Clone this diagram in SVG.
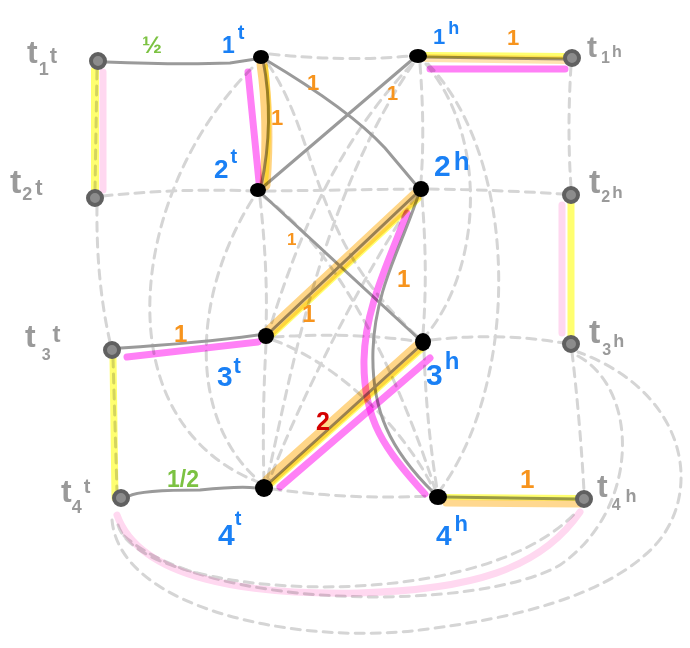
<svg xmlns="http://www.w3.org/2000/svg" width="690" height="648" viewBox="0 0 690 648">
<style>
.d{fill:none;stroke:#d5d5d5;stroke-width:3;stroke-dasharray:9 7;stroke-linecap:round}
.s{fill:none;stroke:#9a9a9a;stroke-width:3;stroke-linecap:round}
.hl{fill:none;stroke-linecap:round;mix-blend-mode:multiply}
.y{stroke:#ffff70}
.o{stroke:#ffc860}
.p{stroke:#ff80f6}
.lp{stroke:#ffd8f0}
.bn{fill:#000}
.gn{fill:#8c8c8c;stroke:#606060;stroke-width:4}
text{font-family:"Liberation Sans",Arial,sans-serif;font-weight:bold}
.nl{fill:#1a80f5}
.tl{fill:#9a9a9a}
.el{fill:#f7941d}
.gl{fill:#7cc242}
.rl{fill:#d40000}
</style>
<rect width="690" height="648" fill="#fff"/>
<g id="connectors">
  <g id="dashed">
    <path class="d" d="M97,70 L95,190"/>
    <path class="d" d="M103,196 Q180,188 252,191"/>
    <path class="d" d="M97,206 Q96,280 110,342"/>
    <path class="d" d="M113,358 L117,492"/>
    <path class="d" d="M270,54 Q345,62 410,56"/>
    <path class="d" d="M266,191 Q345,190 413,189"/>
    <path class="d" d="M429,189 Q500,190 563,194"/>
    <path class="d" d="M571,66 Q567,130 571,187"/>
    <path class="d" d="M274,337 Q350,332 415,341"/>
    <path class="d" d="M431,340 Q500,332 563,343"/>
    <path class="d" d="M572,352 Q580,420 584,491"/>
    <path class="d" d="M272,489 Q350,500 430,496"/>
    <path class="d" d="M420,64 Q425,130 421,181"/>
    <path class="d" d="M422,197 Q428,270 423,334"/>
    <path class="d" d="M424,350 Q426,420 437,489"/>
    <path class="d" d="M260,198 Q268,270 266,328"/>
    <path class="d" d="M266,344 Q262,420 264,480"/>
    <path class="d" d="M252,68 C130,190 100,420 258,482"/>
    <path class="d" d="M252,200 C190,300 190,420 258,480"/>
    <path class="d" d="M426,64 C490,140 480,270 427,334"/>
    <path class="d" d="M428,64 C520,160 520,380 441,489"/>
    <path class="d" d="M268,64 C320,140 310,240 417,336"/>
    <path class="d" d="M412,64 C340,140 300,230 270,328"/>
    <path class="d" d="M413,64 C320,200 290,380 267,480"/>
    <path class="d" d="M416,196 C360,280 300,400 269,481"/>
    <path class="d" d="M264,197 C340,250 400,380 435,489"/>
    <path class="d" d="M273,340 C330,360 400,420 434,490"/>
    <path class="d" d="M118,525 C140,600 480,620 578,510"/>
    <path class="d" d="M112,520 C120,610 300,645 420,630 C520,618 600,595 645,555 C705,505 695,395 578,352"/>
    <path class="d" d="M578,356 C640,390 640,510 560,565 C480,612 200,612 120,532"/>
  </g>
  <g id="solid">
    <path class="s" d="M106,62 Q180,65 230,63 L256,59"/>
    <path class="s" d="M121,348 Q200,343 258,335"/>
    <path class="s" d="M129,496 Q140,490 200,490 Q240,486 256,488"/>
    <path class="s" d="M266,60 Q350,110 385,148 L417,186"/>
    <path class="s" d="M263,187 L413,59"/>
    <path class="s" d="M262,194 L419,339"/>
    <path class="s" d="M263,60 Q275,120 261,187"/>
    <path class="s" d="M417,193 L270,332"/>
    <path class="s" d="M420,346 L268,484"/>
    <path class="s" d="M418,196 C400,250 375,290 373,350 C371,410 390,450 434,493"/>
    <path class="s" d="M425,57 L566,59"/>
    <path class="s" d="M444,497 L578,499"/>
  </g>
  <g id="highlights">
    <path class="hl y" stroke-width="8" d="M95,70 L95,190"/>
    <path class="hl lp" stroke-width="7" d="M103,72 L103,190"/>
    <path class="hl y" stroke-width="7" d="M113,358 L115,498"/>
    <path class="hl y" stroke-width="7" d="M571,203 L571,335"/>
    <path class="hl lp" stroke-width="7" d="M562,205 L562,333"/>
    <path class="hl o" stroke-width="8" opacity="0.5" d="M426,58 L565,60"/>
    <path class="hl y" stroke-width="6" d="M426,55 L565,56"/>
    <path class="hl p" stroke-width="7" d="M430,69 L565,69"/>
    <path class="hl o" stroke-width="7" opacity="0.7" d="M446,503 L580,504"/>
    <path class="hl y" stroke-width="6" d="M446,497 L580,498"/>
    <path class="hl o" stroke-width="11" opacity="0.8" d="M262,64 Q270,120 265,185"/>
    <path class="hl y" stroke-width="4" d="M266,66 Q272,120 266,184"/>
    <path class="hl p" stroke-width="7" d="M248,72 L259,182"/>
    <path class="hl o" stroke-width="12" opacity="0.75" d="M416,195 L269,332"/>
    <path class="hl y" stroke-width="5" d="M419,199 L272,336"/>
    <path class="hl o" stroke-width="12" opacity="0.75" d="M421,344 L268,481"/>
    <path class="hl y" stroke-width="5" d="M424,348 L271,485"/>
    <path class="hl p" stroke-width="7" d="M430,358 L280,487"/>
    <path class="hl p" stroke-width="7" d="M127,357 L258,342"/>
    <path class="hl p" stroke-width="7" d="M407,213 C385,270 365,310 364,360 C363,420 385,450 425,494"/>
    <path class="hl lp" stroke-width="7" d="M117,515 C140,580 250,595 358,593 C470,590 540,570 580,512"/>
  </g>
  <g id="edge-labels">
    <text class="gl" x="142" y="53" font-size="24">½</text>
    <text class="el" x="307" y="90" font-size="22">1</text>
    <text class="el" x="271" y="125" font-size="22">1</text>
    <text class="el" x="387" y="100" font-size="20">1</text>
    <text class="el" x="507" y="45" font-size="22">1</text>
    <text class="el" x="287" y="245" font-size="17">1</text>
    <text class="el" x="302" y="322" font-size="24">1</text>
    <text class="el" x="174" y="342" font-size="24">1</text>
    <text class="el" x="397" y="287" font-size="24">1</text>
    <text class="rl" x="316" y="430" font-size="25">2</text>
    <text class="gl" x="167" y="487" font-size="23">1/2</text>
    <text class="el" x="520" y="488" font-size="26">1</text>
  </g>
</g>
<g id="n1t"><ellipse class="bn" cx="261" cy="57" rx="8" ry="7"/><text class="nl" x="222" y="53" font-size="23">1<tspan dx="3" dy="-14" font-size="20">t</tspan></text></g>
<g id="n2t"><ellipse class="bn" cx="258" cy="190" rx="8" ry="7"/><text class="nl" x="214" y="178" font-size="26">2<tspan dx="2" dy="-15" font-size="20">t</tspan></text></g>
<g id="n3t"><ellipse class="bn" cx="266" cy="336" rx="8" ry="8"/><text class="nl" x="217" y="386" font-size="28">3<tspan dx="1" dy="-13" font-size="22">t</tspan></text></g>
<g id="n4t"><ellipse class="bn" cx="264" cy="488" rx="9" ry="9"/><text class="nl" x="218" y="545" font-size="30">4<tspan dx="0" dy="-20" font-size="20">t</tspan></text></g>
<g id="n1h"><ellipse class="bn" cx="418" cy="56" rx="9" ry="7"/><text class="nl" x="433" y="44" font-size="22">1<tspan dx="3" dy="-10" font-size="18">h</tspan></text></g>
<g id="n2h"><ellipse class="bn" cx="421" cy="189" rx="8" ry="8"/><text class="nl" x="434" y="176" font-size="30">2<tspan dx="3" dy="-6" font-size="26">h</tspan></text></g>
<g id="n3h"><ellipse class="bn" cx="423" cy="342" rx="8" ry="9"/><text class="nl" x="426" y="385" font-size="30">3<tspan dx="2" dy="-16" font-size="24">h</tspan></text></g>
<g id="n4h"><ellipse class="bn" cx="438" cy="497" rx="9" ry="8"/><text class="nl" x="436" y="545" font-size="28">4<tspan dx="3" dy="-14" font-size="22">h</tspan></text></g>
<g id="t1t"><circle class="gn" cx="98" cy="61" r="7"/><text class="tl" x="27" y="63" font-size="32">t<tspan dx="1" dy="12" font-size="18">1</tspan><tspan dx="1" dy="-12" font-size="22">t</tspan></text></g>
<g id="t2t"><circle class="gn" cx="95" cy="198" r="7"/><text class="tl" x="10" y="193" font-size="34">t<tspan dx="1" dy="7" font-size="18">2</tspan><tspan dx="3" dy="-5" font-size="22">t</tspan></text></g>
<g id="t3t"><circle class="gn" cx="112" cy="350" r="7"/><text class="tl" x="25" y="347" font-size="32">t<tspan dx="6" dy="13" font-size="16">3</tspan><tspan dx="2" dy="-18" font-size="24">t</tspan></text></g>
<g id="t4t"><circle class="gn" cx="121" cy="498" r="7"/><text class="tl" x="61" y="502" font-size="32">t<tspan dx="0" dy="11" font-size="18">4</tspan><tspan dx="2" dy="-20" font-size="20">t</tspan></text></g>
<g id="t1h"><circle class="gn" cx="572" cy="58" r="7"/><text class="tl" x="587" y="57" font-size="30">t<tspan dx="4" dy="6" font-size="16">1</tspan><tspan dx="2" dy="-6" font-size="16">h</tspan></text></g>
<g id="t2h"><circle class="gn" cx="571" cy="195" r="7"/><text class="tl" x="589" y="193" font-size="34">t<tspan dx="1" dy="9" font-size="16">2</tspan><tspan dx="2" dy="-4" font-size="17">h</tspan></text></g>
<g id="t3h"><circle class="gn" cx="571" cy="344" r="7"/><text class="tl" x="589" y="343" font-size="34">t<tspan dx="2" dy="12" font-size="16">3</tspan><tspan dx="2" dy="-8" font-size="18">h</tspan></text></g>
<g id="t4h"><circle class="gn" cx="584" cy="499" r="7"/><text class="tl" x="597" y="497" font-size="32">t<tspan dx="4" dy="13" font-size="16">4</tspan><tspan dx="5" dy="-8" font-size="18">h</tspan></text></g>
</svg>
